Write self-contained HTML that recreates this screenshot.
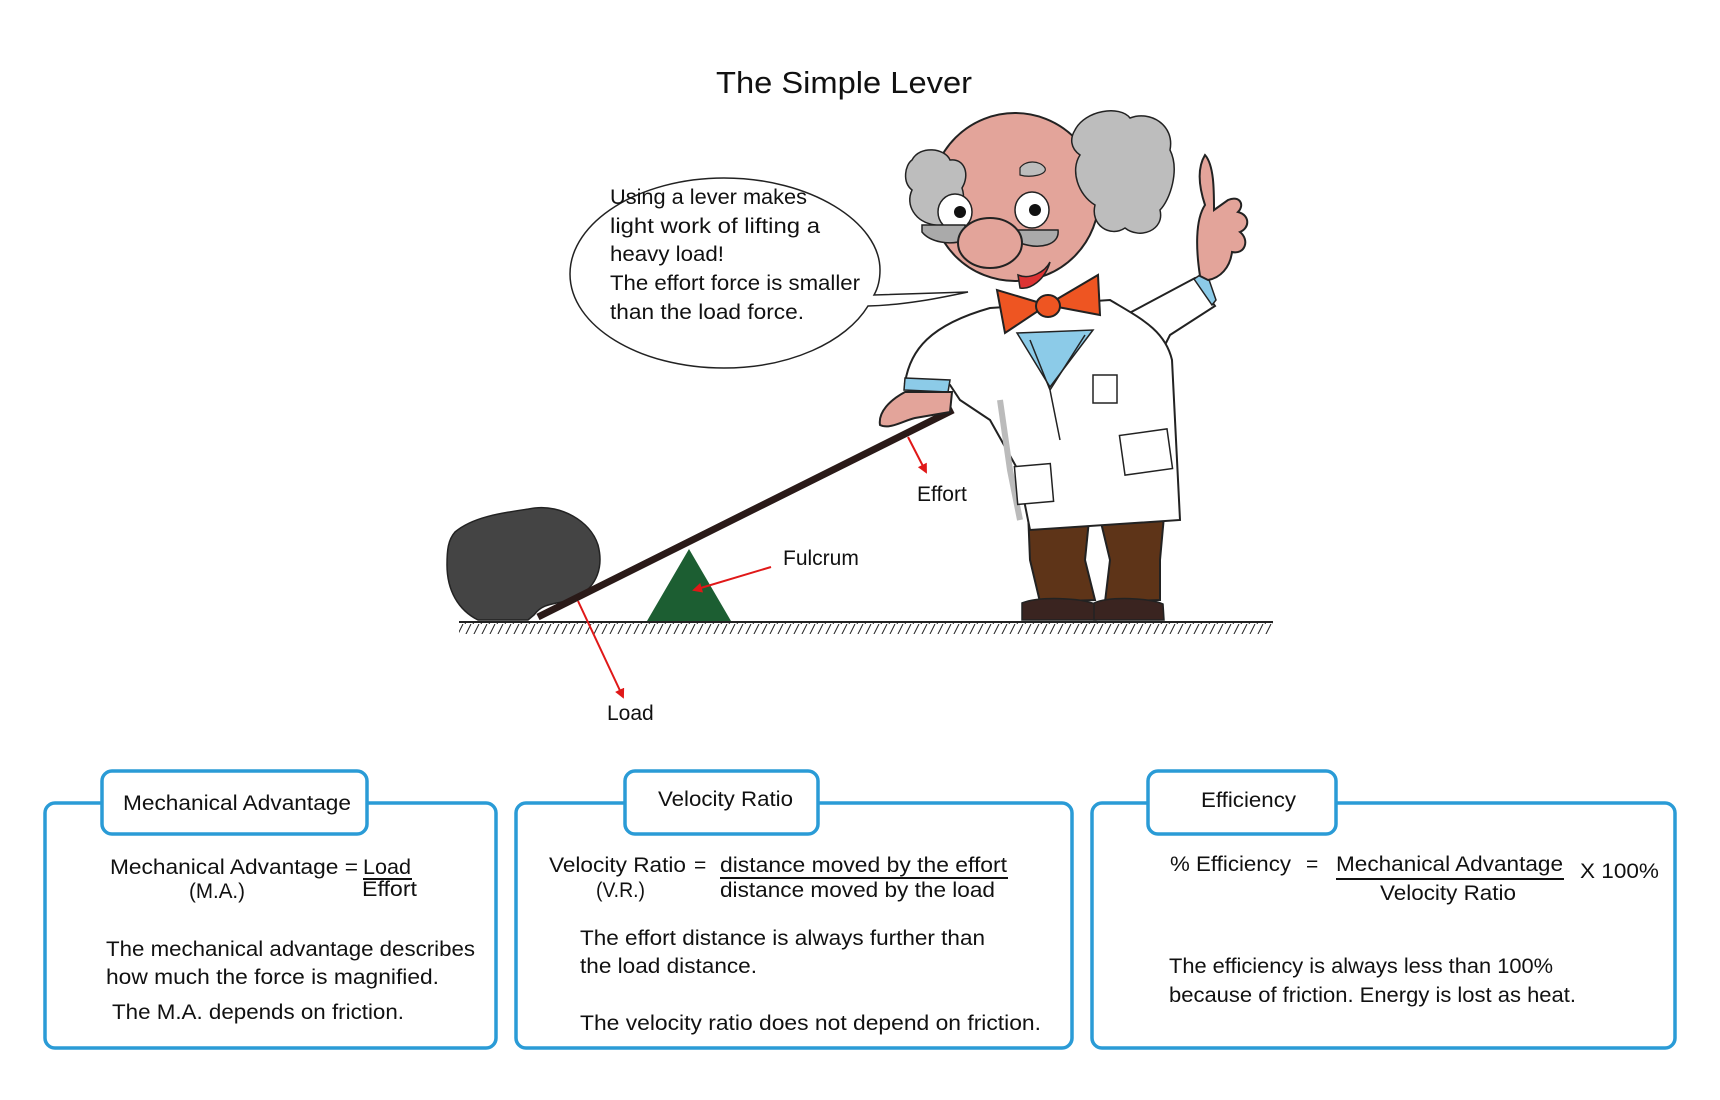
<!DOCTYPE html>
<html><head><meta charset="utf-8"><style>
html,body{margin:0;padding:0;background:#fff;}
svg{display:block;}
text{font-family:"Liberation Sans",sans-serif;fill:#111;}
</style></head><body>
<svg width="1720" height="1100" viewBox="0 0 1720 1100" xmlns="http://www.w3.org/2000/svg">
<defs>
<pattern id="hatch" width="8" height="12" patternUnits="userSpaceOnUse">
<line x1="7" y1="0" x2="1" y2="12" stroke="#222" stroke-width="1"/>
</pattern>
<marker id="ar" markerWidth="10" markerHeight="10" refX="8" refY="5" orient="auto" markerUnits="userSpaceOnUse">
<path d="M0,0 L10,5 L0,10 z" fill="#e01818"/>
</marker>
</defs>

<text x="844" y="93" font-size="31" text-anchor="middle" textLength="256" lengthAdjust="spacingAndGlyphs">The Simple Lever</text>

<!-- speech bubble -->
<path d="M724,178 C810,178 880,222 880,270 C880,280 878,288 874,295 L968,292 C940,298 905,305 868,306 C846,342 790,368 724,368 C639,368 570,326 570,274 C570,222 639,178 724,178 Z" fill="#fff" stroke="#222" stroke-width="1.5"/>
<g font-size="21">
<text x="610" y="204" textLength="197" lengthAdjust="spacingAndGlyphs">Using a lever makes</text>
<text x="610" y="233" textLength="210" lengthAdjust="spacingAndGlyphs">light  work of lifting a</text>
<text x="610" y="261" textLength="114" lengthAdjust="spacingAndGlyphs">heavy load!</text>
<text x="610" y="290" textLength="250" lengthAdjust="spacingAndGlyphs">The effort force is smaller</text>
<text x="610" y="319" textLength="194" lengthAdjust="spacingAndGlyphs">than the load force.</text>
</g>

<!-- ground -->
<line x1="459" y1="622" x2="1273" y2="622" stroke="#222" stroke-width="2"/>
<rect x="459" y="623" width="814" height="11" fill="url(#hatch)"/>

<!-- rock -->
<path d="M455,532 C475,515 510,512 535,508 C560,505 590,520 598,545 C604,568 596,585 580,596 C560,606 545,600 534,615 L528,620 L478,620 C458,610 447,590 447,565 C447,550 448,540 455,532 Z" fill="#444" stroke="#222" stroke-width="1.5"/>

<!-- fulcrum -->
<polygon points="689,549 731,621 647,621" fill="#1c5e32"/>
<!-- lever -->
<line x1="538" y1="617" x2="953" y2="410" stroke="#2a1a18" stroke-width="7"/>

<!-- professor -->
<path d="M1028,510 L1090,510 L1085,560 L1095,600 L1040,602 L1030,560 Z" fill="#5e3418" stroke="#222" stroke-width="2"/>
<path d="M1098,510 L1165,505 L1160,560 L1160,600 L1105,602 L1110,560 Z" fill="#5e3418" stroke="#222" stroke-width="2"/>
<path d="M1022,603 C1040,596 1080,598 1095,604 L1096,620 L1022,620 Z" fill="#3a2420" stroke="#222" stroke-width="1.5"/>
<path d="M1094,603 C1110,596 1150,598 1163,604 L1164,620 L1094,620 Z" fill="#3a2420" stroke="#222" stroke-width="1.5"/>
<!-- raised arm -->
<path d="M1120,318 L1195,278 L1215,306 L1170,335 L1165,345 C1150,345 1138,340 1130,335 Z" fill="#fff" stroke="#222" stroke-width="2"/>
<path d="M1194,279 L1206,271 L1216,300 L1212,305 Z" fill="#8ccbe8" stroke="#222" stroke-width="1.5"/>
<path d="M1200,276 C1196,250 1195,220 1205,205 C1200,190 1196,170 1205,155 C1214,165 1214,190 1214,210 L1228,200 C1240,195 1245,205 1238,212 C1250,215 1250,228 1240,232 C1250,240 1245,255 1232,252 C1230,268 1220,278 1208,280 Z" fill="#e3a49a" stroke="#222" stroke-width="2"/>
<!-- coat body -->
<path d="M990,308 L1110,300 C1140,318 1165,330 1172,360 L1180,520 L1030,530 L1018,470 L990,420 L960,400 L950,385 L905,383 C910,350 930,325 990,308 Z" fill="#fff" stroke="#222" stroke-width="2"/>
<path d="M1000,400 L1010,470 L1020,520" stroke="#bbb" stroke-width="6" fill="none"/>
<path d="M905,378 L950,380 L948,392 L904,390 Z" fill="#8ccbe8" stroke="#222" stroke-width="1.5"/>
<path d="M905,392 C890,400 878,412 880,425 C890,430 905,420 915,418 L950,412 L952,392 Z" fill="#e3a49a" stroke="#222" stroke-width="2"/>
<polygon points="1017,333 1093,330 1050,387" fill="#8ccbe8" stroke="#222" stroke-width="1.5"/>
<path d="M1030,340 L1050,390 L1060,440 M1085,335 L1050,390" stroke="#222" stroke-width="1.5" fill="none"/>
<rect x="1016" y="465" width="36" height="38" fill="#fff" stroke="#222" stroke-width="1.5" transform="rotate(-5 1034 484)"/>
<rect x="1122" y="432" width="48" height="40" fill="#fff" stroke="#222" stroke-width="1.5" transform="rotate(-8 1146 452)"/>
<rect x="1093" y="375" width="24" height="28" fill="#fff" stroke="#222" stroke-width="1.5"/>
<!-- head -->
<circle cx="1015" cy="197" r="84" fill="#e3a49a" stroke="#222" stroke-width="2"/>
<path d="M912,160 C920,145 945,148 950,160 C965,158 970,175 962,188 C968,205 955,228 935,225 C915,222 905,205 912,190 C902,182 905,165 912,160 Z" fill="#bdbdbd" stroke="#222" stroke-width="1.5"/>
<path d="M1075,130 C1085,110 1120,105 1130,118 C1150,110 1175,125 1170,150 C1180,170 1170,200 1160,210 C1165,230 1140,240 1125,228 C1110,238 1090,225 1095,205 C1078,195 1070,170 1080,155 C1070,148 1070,138 1075,130 Z" fill="#bdbdbd" stroke="#222" stroke-width="1.5"/>
<path d="M1020,168 C1025,160 1040,160 1045,168 C1048,175 1030,178 1020,175 Z" fill="#bdbdbd" stroke="#222" stroke-width="1.2"/>
<ellipse cx="955" cy="212" rx="17" ry="18" fill="#fff" stroke="#222" stroke-width="1.5"/>
<ellipse cx="1032" cy="210" rx="17" ry="18" fill="#fff" stroke="#222" stroke-width="1.5"/>
<circle cx="960" cy="212" r="6" fill="#111"/>
<circle cx="1035" cy="210" r="6" fill="#111"/>
<path d="M922,225 L965,225 L965,240 C950,246 930,242 922,232 Z" fill="#aaa" stroke="#222" stroke-width="1.5"/>
<path d="M1015,230 L1058,230 C1060,245 1040,250 1020,243 Z" fill="#aaa" stroke="#222" stroke-width="1.5"/>
<ellipse cx="990" cy="243" rx="32" ry="25" fill="#e3a49a" stroke="#222" stroke-width="2"/>
<path d="M1018,275 C1030,280 1045,272 1050,262 C1045,280 1030,290 1020,288 Z" fill="#d33" stroke="#222" stroke-width="1.5"/>
<path d="M1047,305 L997,290 L1005,333 Z M1047,305 L1098,275 L1100,315 Z" fill="#ee5522" stroke="#222" stroke-width="2"/>
<ellipse cx="1048" cy="306" rx="12" ry="11" fill="#ee5522" stroke="#222" stroke-width="2"/>

<!-- arrows -->
<line x1="908" y1="437" x2="926" y2="472" stroke="#e01818" stroke-width="2" marker-end="url(#ar)"/>
<line x1="771" y1="567" x2="694" y2="590" stroke="#e01818" stroke-width="2" marker-end="url(#ar)"/>
<line x1="578" y1="601" x2="623" y2="697" stroke="#e01818" stroke-width="2" marker-end="url(#ar)"/>
<g font-size="21">
<text x="917" y="501">Effort</text>
<text x="783" y="565">Fulcrum</text>
<text x="607" y="720">Load</text>
</g>

<!-- boxes -->
<g fill="#fff" stroke="#2a9bd6" stroke-width="3.5">
<rect x="45" y="803" width="451" height="245" rx="10"/>
<rect x="516" y="803" width="556" height="245" rx="10"/>
<rect x="1092" y="803" width="583" height="245" rx="10"/>
<rect x="102" y="771" width="265" height="63" rx="10"/>
<rect x="625" y="771" width="193" height="63" rx="10"/>
<rect x="1148" y="771" width="188" height="63" rx="10"/>
</g>
<g font-size="21">
<text x="123" y="810" textLength="228" lengthAdjust="spacingAndGlyphs">Mechanical Advantage</text>
<text x="658" y="806" textLength="135" lengthAdjust="spacingAndGlyphs">Velocity Ratio</text>
<text x="1201" y="807" textLength="95" lengthAdjust="spacingAndGlyphs">Efficiency</text>

<text x="110" y="874" textLength="248" lengthAdjust="spacingAndGlyphs">Mechanical Advantage =</text>
<text x="363" y="874" textLength="48" lengthAdjust="spacingAndGlyphs">Load</text>
<line x1="363" y1="879" x2="412" y2="879" stroke="#111" stroke-width="2"/>
<text x="189" y="898" textLength="56" lengthAdjust="spacingAndGlyphs">(M.A.)</text>
<text x="362" y="896" textLength="55" lengthAdjust="spacingAndGlyphs">Effort</text>
<text x="106" y="956" textLength="369" lengthAdjust="spacingAndGlyphs">The mechanical advantage describes</text>
<text x="106" y="984" textLength="333" lengthAdjust="spacingAndGlyphs">how much the force is magnified.</text>
<text x="112" y="1019" textLength="292" lengthAdjust="spacingAndGlyphs">The M.A. depends on friction.</text>

<text x="549" y="872" textLength="137" lengthAdjust="spacingAndGlyphs">Velocity Ratio</text>
<text x="694" y="872">=</text>
<text x="720" y="872" textLength="287" lengthAdjust="spacingAndGlyphs">distance moved by the effort</text>
<line x1="720" y1="878" x2="1008" y2="878" stroke="#111" stroke-width="2"/>
<text x="596" y="897" textLength="49" lengthAdjust="spacingAndGlyphs">(V.R.)</text>
<text x="720" y="897" textLength="275" lengthAdjust="spacingAndGlyphs">distance moved by the load</text>
<text x="580" y="945" textLength="405" lengthAdjust="spacingAndGlyphs">The effort distance is always further than</text>
<text x="580" y="973" textLength="177" lengthAdjust="spacingAndGlyphs">the load distance.</text>
<text x="580" y="1030" textLength="461" lengthAdjust="spacingAndGlyphs">The velocity ratio does not depend on friction.</text>

<text x="1170" y="871" textLength="121" lengthAdjust="spacingAndGlyphs">% Efficiency</text>
<text x="1306" y="871">=</text>
<text x="1336" y="871" textLength="227" lengthAdjust="spacingAndGlyphs">Mechanical Advantage</text>
<line x1="1336" y1="879" x2="1564" y2="879" stroke="#111" stroke-width="2"/>
<text x="1380" y="900" textLength="136" lengthAdjust="spacingAndGlyphs">Velocity Ratio</text>
<text x="1580" y="878" textLength="79" lengthAdjust="spacingAndGlyphs">X  100%</text>
<text x="1169" y="973" textLength="384" lengthAdjust="spacingAndGlyphs">The efficiency is always less than 100%</text>
<text x="1169" y="1002" textLength="407" lengthAdjust="spacingAndGlyphs">because of friction. Energy is lost as heat.</text>
</g>
</svg>
</body></html>
